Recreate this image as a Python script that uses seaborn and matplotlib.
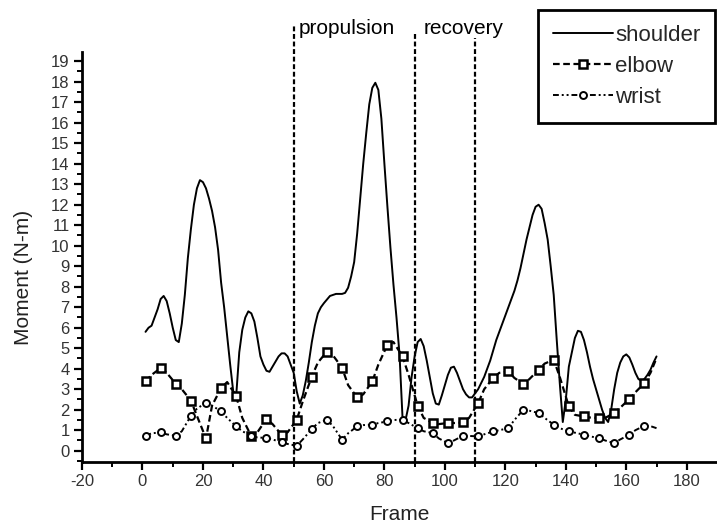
import matplotlib
matplotlib.use("Agg")
import matplotlib.pyplot as plt
import numpy as np
import pandas as pd
import seaborn as sns

# Joint moments over one stroke cycle
shoulder_frames = [
    1, 2, 3, 4, 5, 6, 7, 8, 9, 10, 11, 12, 13, 14, 15, 16, 17, 18, 19, 20,
    21, 22, 23, 24, 25, 26, 27, 28, 29, 30, 31, 32, 33, 34, 35, 36, 37, 38, 39, 40,
    41, 42, 43, 44, 45, 46, 47, 48, 49, 50, 51, 52, 53, 54, 55, 56, 57, 58, 59, 60,
    62, 64, 66, 67, 68, 69, 70, 71, 72, 73, 74, 75, 76, 77, 78, 79, 80,
    81, 82, 83, 84, 85, 86, 87, 88, 89, 90, 91, 92, 93, 94, 95, 96, 97, 98, 99, 100,
    101, 102, 103, 104, 105, 106, 107, 108, 109, 110, 111, 112, 113, 114, 115, 116, 117, 118, 119, 120,
    121, 122, 123, 124, 125, 126, 127, 128, 129, 130, 131, 132, 133, 134, 135, 136, 137, 138, 139, 140,
    141, 142, 143, 144, 145, 146, 147, 148, 149, 150, 151, 152, 153, 154, 155, 156, 157, 158, 159, 160,
    161, 162, 163, 164, 165, 166, 167, 168, 169, 170,
]
shoulder_moment = [
    5.8, 6.0, 6.1, 6.5, 6.9, 7.4, 7.55, 7.3, 6.7, 6.0, 5.4, 5.3, 6.2, 7.6, 9.4, 10.8, 12.0, 12.8, 13.2, 13.1,
    12.8, 12.3, 11.7, 10.9, 9.8, 8.2, 7.0, 5.6, 4.2, 2.9, 2.7, 4.8, 5.9, 6.5, 6.8, 6.7, 6.3, 5.5, 4.6, 4.2,
    3.9, 3.85, 4.1, 4.35, 4.6, 4.75, 4.75, 4.6, 4.2, 3.8, 2.9, 2.3, 2.7, 3.4, 4.3, 5.3, 6.1, 6.7, 7.0, 7.2,
    7.55, 7.65, 7.65, 7.7, 7.95, 8.5, 9.2, 10.6, 12.3, 14.0, 15.5, 16.9, 17.7, 17.95, 17.6, 16.2, 14.0,
    11.9, 9.9, 8.1, 6.5, 4.7, 1.6, 1.5, 2.2, 3.6, 4.6, 5.3, 5.45, 5.1, 4.4, 3.6, 2.8, 2.3, 2.25, 2.7, 3.2,
    3.7, 4.05, 4.1, 3.8, 3.4, 3.0, 2.75, 2.6, 2.6, 2.8, 3.0, 3.3, 3.6, 4.0, 4.4, 4.9, 5.4, 5.8, 6.2, 6.6,
    7.0, 7.4, 7.8, 8.3, 8.9, 9.6, 10.3, 10.9, 11.5, 11.9, 12.0, 11.8, 11.1, 10.3, 9.0, 7.6, 5.4, 3.3, 1.4, 2.5,
    4.1, 4.8, 5.5, 5.85, 5.8, 5.4, 4.8, 4.1, 3.5, 3.0, 2.5, 2.0, 1.6, 1.4, 2.0, 3.0, 3.8, 4.3, 4.6, 4.7,
    4.55, 4.2, 3.8, 3.5, 3.4, 3.5, 3.7, 3.95, 4.3, 4.6,
]

arm_frames = [
    1, 3, 6, 8, 11, 13, 16, 18, 21, 23, 26, 28, 31, 33, 36, 38, 41, 43, 46, 48,
    51, 53, 56, 58, 61, 63, 66, 68, 71, 73, 76, 78, 81, 83, 86, 88, 91, 93, 96, 98,
    101, 103, 106, 108, 111, 113, 116, 118, 121, 123, 126, 128, 131, 133, 136, 138, 141, 143, 146, 148,
    151, 153, 156, 158, 161, 163, 166, 168, 170,
]
elbow_moment = [
    3.38, 3.7, 4.03, 3.8, 3.27, 3.0, 2.45, 1.7, 0.6, 2.2, 3.06, 3.35, 2.65, 1.6, 0.7, 0.9, 1.55, 1.3, 0.78, 0.9,
    1.51, 2.4, 3.62, 4.3, 4.84, 4.65, 4.05, 3.2, 2.6, 2.75, 3.38, 4.2, 5.17, 5.3, 4.6, 3.7, 2.2, 1.6, 1.35, 1.3,
    1.35, 1.35, 1.38, 1.6, 2.32, 3.0, 3.55, 3.8, 3.87, 3.55, 3.25, 3.5, 3.95, 4.25, 4.44, 3.6, 2.16, 1.75, 1.67, 1.62,
    1.59, 1.6, 1.84, 2.1, 2.52, 2.85, 3.3, 3.8, 4.52,
]
wrist_moment = [
    0.73, 0.85, 0.89, 0.8, 0.73, 0.95, 1.7, 2.05, 2.35, 2.2, 1.92, 1.6, 1.19, 0.95, 0.73, 0.65, 0.62, 0.55, 0.41, 0.33,
    0.24, 0.55, 1.06, 1.35, 1.51, 1.2, 0.54, 0.85, 1.19, 1.25, 1.27, 1.35, 1.43, 1.5, 1.51, 1.35, 1.1, 0.95, 0.86, 0.6,
    0.37, 0.5, 0.73, 0.72, 0.7, 0.8, 0.94, 1.0, 1.1, 1.5, 2.0, 1.95, 1.84, 1.6, 1.27, 1.1, 0.94, 0.88, 0.78, 0.7,
    0.62, 0.5, 0.37, 0.55, 0.78, 1.0, 1.22, 1.2, 1.1,
]

phase_bounds = [50, 90, 110]
phase_tops = [20.8, 20.4, 20.15]
phase_names = ["propulsion", "recovery"]
phase_label_x = [51.8, 93.0]

sns.set_style("ticks")
plt.rcParams["font.family"] = ["Liberation Sans", "DejaVu Sans"]
plt.rcParams["axes.unicode_minus"] = False

shoulder_df = pd.DataFrame({"Frame": shoulder_frames, "Moment": shoulder_moment})
arm_df = pd.DataFrame({"Frame": arm_frames, "elbow": elbow_moment, "wrist": wrist_moment})
mark_idx = [i for i, f in enumerate(arm_frames) if f % 5 == 1]

fig = plt.figure(figsize=(7.17, 5.28), dpi=100)
ax = fig.add_axes([0.1144, 0.125, 0.8856, 0.7765])

sns.lineplot(data=shoulder_df, x="Frame", y="Moment", ax=ax, color="black",
             lw=1.4, estimator=None, sort=False, label="shoulder")
sns.lineplot(data=arm_df, x="Frame", y="elbow", ax=ax, color="black",
             lw=1.6, linestyle=(0, (3, 1.6)), estimator=None, sort=False,
             marker="s", markersize=6, markerfacecolor="white",
             markeredgecolor="black", markeredgewidth=1.8,
             markevery=mark_idx, label="elbow")
sns.lineplot(data=arm_df, x="Frame", y="wrist", ax=ax, color="black",
             lw=1.4, linestyle=(0, (3, 1.5, 1, 1.5, 1, 1.5)), estimator=None, sort=False,
             marker="o", markersize=5, markerfacecolor="white",
             markeredgecolor="black", markeredgewidth=1.4,
             markevery=mark_idx, label="wrist")

# phase boundaries
for xb, top in zip(phase_bounds, phase_tops):
    ax.plot([xb, xb], [-0.55, top], color="black", lw=1.6,
            linestyle=(0, (2.2, 1.2)), clip_on=False, zorder=1)
for name, xl in zip(phase_names, phase_label_x):
    ax.text(xl, 20.35, name, fontsize=15, va="baseline", ha="left",
            clip_on=False, color="black")

ax.set_xlim(-20, 190)
ax.set_ylim(-0.55, 19.45)
ax.set_xticks(np.arange(-20, 181, 20))
ax.set_xticks(np.arange(-10, 190, 10), minor=True)
ax.set_yticks(np.arange(0, 20, 1))
ax.set_yticks(np.arange(-0.5, 19.5, 0.5), minor=True)

for side in ["top", "right"]:
    ax.spines[side].set_visible(False)
for side in ["left", "bottom"]:
    ax.spines[side].set_linewidth(2)
    ax.spines[side].set_color("black")

ax.tick_params(which="major", direction="out", length=6, width=1.6,
               labelsize=12, labelcolor="#333333", color="black", pad=3)
ax.tick_params(which="minor", direction="out", length=3.5, width=1.4, color="black")

ax.set_xlabel("Frame", fontsize=15, color="#222222", labelpad=11)
ax.set_ylabel("Moment (N-m)", fontsize=15, color="#222222")
ax.yaxis.set_label_coords(-0.077, 0.45)

leg = ax.legend(loc="upper left", bbox_to_anchor=(0.75, 0.981),
                bbox_transform=fig.transFigure, frameon=True, fancybox=False,
                edgecolor="black", framealpha=1, fontsize=16,
                handlelength=2.7, handletextpad=0.1, labelspacing=0.45,
                borderpad=0.68, borderaxespad=0)
leg.get_frame().set_linewidth(2)

fig.savefig("out.png", dpi=100)
